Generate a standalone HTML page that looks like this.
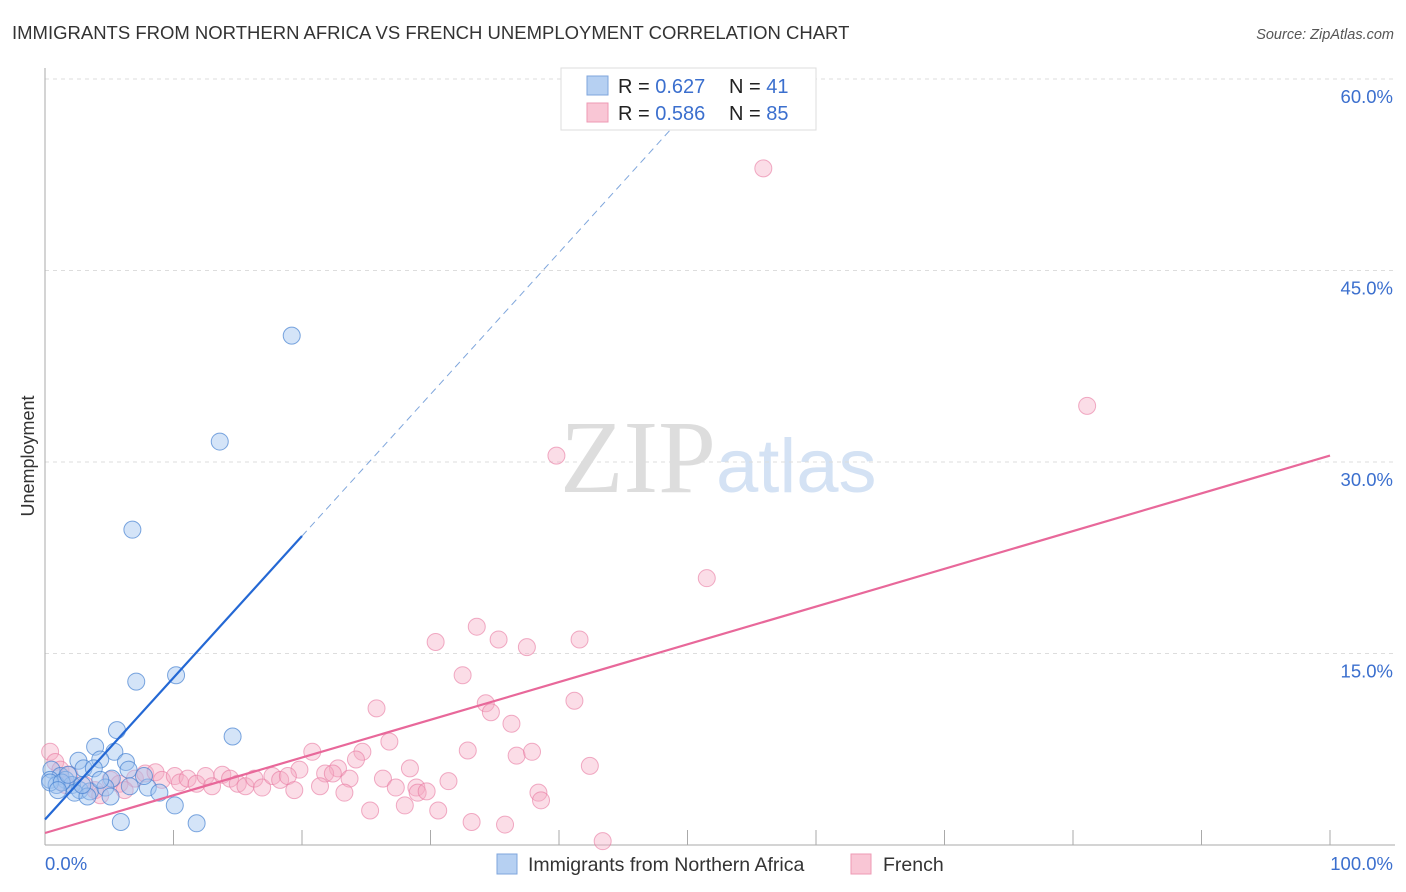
<!DOCTYPE html>
<html><head><meta charset="utf-8"><style>
body{margin:0;background:#fff;font-family:"Liberation Sans",sans-serif;}
svg{display:block}
</style></head><body>
<svg id="chart" width="1406" height="892" font-family="Liberation Sans, sans-serif">
<text x="12" y="39" font-size="18.5" fill="#333">IMMIGRANTS FROM NORTHERN AFRICA VS FRENCH UNEMPLOYMENT CORRELATION CHART</text>
<text x="1394" y="39" font-size="14.5" fill="#555" font-style="italic" text-anchor="end">Source: ZipAtlas.com</text>
<text x="34" y="456" font-size="18" fill="#333" text-anchor="middle" transform="rotate(-90 34 456)">Unemployment</text>
<text x="716" y="492" font-size="104" fill="#ddd" text-anchor="end" font-family="Liberation Serif, serif">ZIP</text>
<text x="716" y="492" font-size="76" fill="#d4e2f4">atlas</text>
<g id="grid"></g><g id="axes"></g><g id="pink"></g><g id="blue"></g><g id="lines"></g>
<g>
<rect x="561" y="68" width="255" height="62" fill="#fff" stroke="#ddd"/>
<rect x="587" y="76" width="21" height="19" fill="#b6d0f2" stroke="#7fa6dc"/>
<rect x="587" y="103" width="21" height="19" fill="#f9c6d5" stroke="#ee9ab4"/>
<text x="618" y="93" font-size="20" fill="#222">R = <tspan fill="#3b6fce">0.627</tspan></text>
<text x="729" y="93" font-size="20" fill="#222">N =  <tspan fill="#3b6fce">41</tspan></text>
<text x="618" y="120" font-size="20" fill="#222">R = <tspan fill="#3b6fce">0.586</tspan></text>
<text x="729" y="120" font-size="20" fill="#222">N = <tspan fill="#3b6fce">85</tspan></text>
</g>
<g>
<rect x="497" y="854" width="20" height="20" fill="#b6d0f2" stroke="#7fa6dc"/>
<text x="528" y="871" font-size="19.5" fill="#333">Immigrants from Northern Africa</text>
<rect x="851" y="854" width="20" height="20" fill="#f9c6d5" stroke="#ee9ab4"/>
<text x="883" y="871" font-size="19.5" fill="#333">French</text>
</g>
</svg>
<script>
const yTicks=[15,30,45,60];
const yTickLabels=["15.0%","30.0%","45.0%","60.0%"];
const xTickVals=[0,10,20,30,40,50,60,70,80,90,100];
const blueX=[19.2,13.6,6.8,7.1,10.2,14.6,5.6,3.9,5.4,2.6,4.3,6.3,3.0,3.8,6.5,0.5,1.2,0.4,1.6,2.1,0.9,0.4,5.2,2.7,3.5,4.7,6.6,2.3,3.3,5.1,8.0,8.9,10.1,5.9,11.8,1.3,1.8,1.0,2.9,4.3,7.7];
const blueY=[39.9,31.6,24.7,12.8,13.3,8.5,9.0,7.7,7.3,6.6,6.7,6.5,6.0,6.0,5.9,5.9,5.4,5.1,5.1,4.7,4.7,4.9,5.2,4.3,4.2,4.5,4.6,4.1,3.8,3.8,4.5,4.1,3.1,1.8,1.7,4.9,5.5,4.3,4.7,5.1,5.4];
const pinkX=[55.9,81.1,39.8,51.5,30.4,33.6,35.3,37.5,41.6,32.5,41.2,25.8,34.3,34.7,36.3,26.8,32.9,36.7,37.9,42.4,20.8,24.7,24.2,28.4,22.8,19.8,21.8,22.4,23.7,26.3,31.4,21.4,27.3,28.9,29.0,29.7,23.3,25.3,28.0,30.6,33.2,35.8,38.4,38.6,43.4,0.4,0.8,1.2,1.9,5.1,5.8,7.0,7.8,8.6,9.1,10.1,10.5,11.1,11.8,12.5,13.0,13.8,14.4,15.0,15.6,16.3,16.9,17.7,18.3,18.9,19.4,3.9,3.1,6.2,4.3,1.6];
const pinkY=[53.0,34.4,30.5,20.9,15.9,17.1,16.1,15.5,16.1,13.3,11.3,10.7,11.1,10.4,9.5,8.1,7.4,7.0,7.3,6.2,7.3,7.3,6.7,6.0,6.0,5.9,5.6,5.6,5.2,5.2,5.0,4.6,4.5,4.5,4.1,4.2,4.1,2.7,3.1,2.7,1.8,1.6,4.1,3.5,0.3,7.3,6.5,5.9,5.5,5.1,4.8,5.2,5.6,5.7,5.1,5.4,4.9,5.2,4.8,5.4,4.6,5.5,5.2,4.8,4.6,5.2,4.5,5.4,5.1,5.4,4.3,4.3,4.7,4.3,3.9,4.7];
const blueFit=[2.0,24.2]; // y at x=0 and x=20
const pinkFit=[0.94,30.5]; // y at x=0 and x=100
const NS="http://www.w3.org/2000/svg";
const X=v=>45+v*12.85, Y=v=>845-v*191.5/15;
function mk(t,a,p){const e=document.createElementNS(NS,t);for(const k in a)e.setAttribute(k,a[k]);document.getElementById(p).appendChild(e);return e;}
yTicks.forEach((t,i)=>{
 const l=mk('line',{x1:45,x2:1395,y1:Y(t),y2:Y(t),stroke:'#ddd','stroke-dasharray':'4,4'},'grid');
 
 
 const tx=mk('text',{x:1393,y:Y(t)+24,'font-size':18.5,fill:'#3b6fce','text-anchor':'end'},'grid');tx.textContent=yTickLabels[i];
 
 
});
const ax=mk('line',{x1:45,x2:45,y1:68,y2:845,stroke:'#aaa'},'axes');


const bx=mk('line',{x1:45,x2:1395,y1:845,y2:845,stroke:'#aaa'},'axes');


xTickVals.forEach(v=>{if(v===0)return;const t=mk('line',{x1:X(v),x2:X(v),y1:830,y2:845,stroke:'#aaa'},'axes');
 
 });
const x0=mk('text',{x:45,y:870,'font-size':18.5,fill:'#3b6fce'},'axes');x0.textContent='0.0%';


const x1=mk('text',{x:1393,y:870,'font-size':18.5,fill:'#3b6fce','text-anchor':'end'},'axes');x1.textContent='100.0%';


pinkX.forEach((v,i)=>{const c=mk('circle',{cx:X(v),cy:Y(pinkY[i]),r:8.5,fill:'rgba(246,170,195,0.4)',stroke:'rgba(232,120,160,0.6)','stroke-width':1},'pink');
 
 });
blueX.forEach((v,i)=>{const c=mk('circle',{cx:X(v),cy:Y(blueY[i]),r:8.5,fill:'rgba(160,196,240,0.45)',stroke:'rgba(70,130,210,0.7)','stroke-width':1},'blue');
 
 });
const bs=(blueFit[1]-blueFit[0])/20;
const xe=(60-blueFit[0])/bs;
const bd=mk('line',{x1:X(20),y1:Y(blueFit[1]),x2:X(xe),y2:Y(60),stroke:'#7fa6dc','stroke-width':1,'stroke-dasharray':'7,5'},'lines');


const bl=mk('line',{x1:X(0),y1:Y(blueFit[0]),x2:X(20),y2:Y(blueFit[1]),stroke:'#2468d4','stroke-width':2.2},'lines');


const pl=mk('line',{x1:X(0),y1:Y(pinkFit[0]),x2:X(100),y2:Y(pinkFit[1]),stroke:'#e8689a','stroke-width':2.2},'lines');


</script>
</body></html>
